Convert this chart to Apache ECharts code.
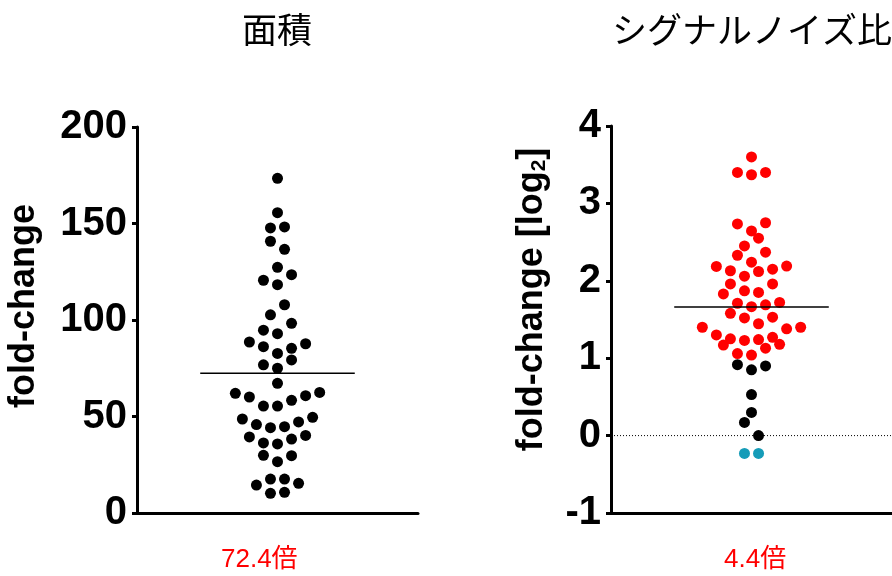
<!DOCTYPE html>
<html>
<head>
<meta charset="utf-8">
<title>fold-change</title>
<script src="https://cdn.jsdelivr.net/npm/echarts@6/dist/echarts.min.js"></script>
<style>
html, body { margin:0; padding:0; background:#fff; }
#main { width:892px; height:576px; }
</style>
</head>
<body>
<div id="main"></div>
<script>
// 面積 : fold-change 値と横ずらし(点の半分の幅単位)
var areaValues = [173.4, 155.6, 147.7, 148.2, 140.8, 136.6, 127.3, 123.5, 120.6, 118.3,
	107.9, 102.7, 98.3, 94.7, 92.9, 88.6, 86.2, 82.7, 85.3, 87.7,
	76.8, 75.0, 79.3, 67.2, 62.0, 60.1, 55.4, 55.4, 58.4, 60.8,
	62.5, 48.7, 45.8, 44.2, 44.7, 47.2, 49.6, 39.4, 36.3, 35.8,
	38.3, 40.2, 29.9, 26.6, 29.7, 14.5, 17.6, 17.6, 15.4, 10.2, 10.7];
var areaOffsets = [0, 0, -1, 1, -1, 1, 0, 2, -2, 0,
	1, -1, 2, -2, 0, -4, -2, 0, 2, 4,
	-2, 0, 2, 0, -6, -4, -2, 0, 2, 4,
	6, -5, -3, -1, 1, 3, 5, -4, -2, 0,
	2, 4, -2, 0, 2, -3, -1, 1, 3, -1, 1];
var areaMedian = 72.4;

// シグナルノイズ比 : log2 fold-change (赤 = 2倍以上, 黒, 青 = 減少)
var snRedValues = [3.60, 3.40, 3.37, 3.40, 2.735, 2.75, 2.645, 2.55, 2.45, 2.37,
	2.33, 2.24, 2.185, 2.13, 2.06, 2.12, 2.15, 2.19, 1.96, 1.96,
	1.83, 1.87, 1.85, 1.71, 1.665, 1.69, 1.72, 1.58, 1.52, 1.445,
	1.53, 1.40, 1.38, 1.40, 1.30, 1.25, 1.17, 1.23, 1.24, 1.27,
	1.18, 1.13, 1.06, 1.04];
var snRedOffsets = [0, -2, 0, 2, -2, 2, 0, 1, -1, 2,
	-2, 0, -5, -3, -1, 1, 3, 5, -3, 3,
	-4, -1, 1, -2, 0, 2, 4, -3, -1, 1,
	3, -7, 5, 7, -5, -3, -4, -1, 1, 3,
	4, 2, -2, 0];
var snBlackValues = [0.916, 0.85, 0.90, 0.53, 0.30, 0.17, 0.0];
var snBlackOffsets = [-2, 0, 2, 0, 0, -1, 1];
var snTealValues = [-0.23, -0.23];
var snTealOffsets = [-1, 1];
var snMedian = 1.66;

// 軸目盛り
var areaTicks = [0, 50, 100, 150, 200];
var snTicks = [-1, 0, 1, 2, 3, 4];

var titles = ['面積', 'シグナルノイズ比'];
var foldLabels = ['72.4倍', '4.4倍'];

var numFont = '"Liberation Sans", Arial, "Noto Sans CJK JP", sans-serif';
var jpFont = '"Noto Sans CJK JP", "Liberation Sans", sans-serif';

/**
 * 値とずらしから散布図データを作る
 */
function toPoints(values, offsets) {
	var data = [];
	for (var i = 0; i < values.length; i++) {
		data.push([offsets[i], values[i]]);
	}
	return data;
}

/**
 * y軸の設定
 */
function makeYAxis(gridIndex, ticks, name, nameGap, padLeft) {
	return {
		type: 'value',
		gridIndex: gridIndex,
		min: ticks[0],
		max: ticks[ticks.length - 1],
		interval: ticks[1] - ticks[0],
		name: name,
		nameLocation: 'middle',
		nameGap: nameGap,
		nameRotate: 90,
		nameTextStyle: {
			fontFamily: numFont, fontWeight: 'bold', fontSize: 36, color: '#000',
			padding: [0, 0, 0, padLeft],
			rich: { sub: { fontFamily: numFont, fontWeight: 'bold', fontSize: 21, color: '#000', verticalAlign: 'bottom', padding: [14, 0, 0, 0] } }
		},
		axisLine: { show: true, onZero: false, lineStyle: { color: '#000', width: 3 } },
		axisTick: { show: true, length: 5, lineStyle: { color: '#000', width: 3 } },
		axisLabel: { fontFamily: numFont, fontWeight: 'bold', fontSize: 40, color: '#000', margin: 10 },
		splitLine: { show: false }
	};
}

/**
 * x軸の設定 (ずらし用)
 */
function makeXAxis(gridIndex) {
	return {
		type: 'value',
		gridIndex: gridIndex,
		min: -20,
		max: 20,
		axisLine: { show: true, onZero: false, lineStyle: { color: '#000', width: 3 } },
		axisTick: { show: false },
		axisLabel: { show: false },
		splitLine: { show: false }
	};
}

function dotSeries(idx, data, color) {
	return {
		type: 'scatter',
		xAxisIndex: idx, yAxisIndex: idx,
		data: data,
		symbolSize: 11,
		itemStyle: { color: color, opacity: 1 },
		z: 3
	};
}

function lineSeries(idx, data, style, z) {
	return {
		type: 'line',
		xAxisIndex: idx, yAxisIndex: idx,
		data: data,
		symbol: 'none',
		lineStyle: style,
		silent: true,
		z: z
	};
}

var myChart = echarts.init(document.getElementById('main'), null, { renderer: 'canvas' });

var option = {
	backgroundColor: '#fff',
	animation: false,
	title: [
		{ text: titles[0], left: 277, top: 12, textAlign: 'center', padding: 0,
			textStyle: { fontFamily: jpFont, fontWeight: 'normal', fontSize: 35, color: '#000' } },
		{ text: titles[1], left: 752, top: 12, textAlign: 'center', padding: 0,
			textStyle: { fontFamily: jpFont, fontWeight: 'normal', fontSize: 35, color: '#000' } }
	],
	grid: [
		{ left: 137, right: 474, top: 127, bottom: 63 },
		{ left: 611, right: 0, top: 126, bottom: 63 }
	],
	xAxis: [makeXAxis(0), makeXAxis(1)],
	yAxis: [
		makeYAxis(0, areaTicks, 'fold-change', 95, 28),
		makeYAxis(1, snTicks, 'fold-change [log{sub|2}]', 61, 40)
	],
	graphic: [
		{ type: 'text', left: 221, top: 547,
			style: { text: foldLabels[0], fontFamily: numFont, fontSize: 26, fill: '#ff0000' } },
		{ type: 'text', left: 724, top: 547,
			style: { text: foldLabels[1], fontFamily: numFont, fontSize: 26, fill: '#ff0000' } }
	],
	series: [
		dotSeries(0, toPoints(areaValues, areaOffsets), '#000'),
		lineSeries(0, [[-11, areaMedian], [11, areaMedian]], { color: '#000', width: 1.5 }, 4),
		lineSeries(1, [[-20, 0], [20, 0]], { color: '#000', width: 1, type: [1, 2] }, 1),
		dotSeries(1, toPoints(snRedValues, snRedOffsets), '#ff0000'),
		dotSeries(1, toPoints(snBlackValues, snBlackOffsets), '#000'),
		dotSeries(1, toPoints(snTealValues, snTealOffsets), '#169cb8'),
		lineSeries(1, [[-11, snMedian], [11, snMedian]], { color: '#000', width: 1.5 }, 4)
	]
};

myChart.setOption(option);
</script>
</body>
</html>
